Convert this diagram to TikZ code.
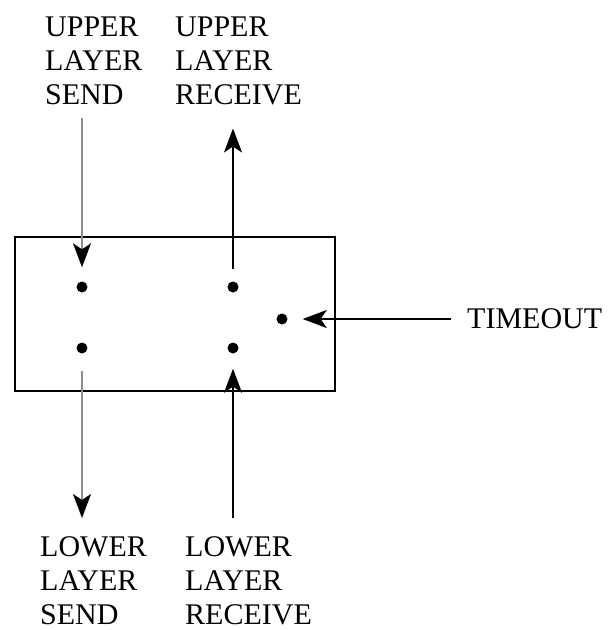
\documentclass[tikz,border=0pt]{standalone}
\usepackage{fontspec}
\setmainfont{Liberation Serif}
\usetikzlibrary{arrows.meta,positioning,calc}

\tikzset{
  dot/.style={circle, fill=black, inner sep=0pt, minimum size=11pt},
  label/.style={align=left, anchor=north west, inner sep=0pt, font=\fontsize{30}{34}\selectfont},
  flow/.style={line width=1.8pt, -{Stealth[length=24pt,width=18pt,inset=6pt]}},
  faint/.style={flow, draw=black!45, -{Stealth[length=24pt,width=18pt,inset=6pt,color=black]}}
}

\begin{document}
\begin{tikzpicture}[x=1pt,y=-1pt]
\useasboundingbox (0,0) rectangle (610,630);

% Box
\draw[line width=2.6pt] (15,237) rectangle (335,391);

% Dots
\node[dot] (d1) at (82,287) {};
\node[dot] (d2) at (233,287) {};
\node[dot] (d3) at (282,319) {};
\node[dot] (d4) at (82,348) {};
\node[dot] (d5) at (233,348) {};

% Labels
\node[label] (usl) at (45,17) {UPPER\\LAYER\\SEND};
\node[label] (usr) at (175,17) {UPPER\\LAYER\\RECEIVE};
\node[label] (lsl) at (40,536) {LOWER\\LAYER\\SEND};
\node[label] (lsr) at (185,536) {LOWER\\LAYER\\RECEIVE};
\node[label, anchor=west] (tmo) at (467,319) {TIMEOUT};

% Arrows
\draw[faint, shorten <=13pt, shorten >=14pt] (usl.south -| d1) -- (d1);
\draw[flow, shorten <=12pt, shorten >=23pt] (d2) -- (usr.south -| d2);
\draw[faint, shorten <=17pt, shorten >=18pt] (d4) -- (lsl.north -| d4);
\draw[flow, shorten <=18pt, shorten >=15pt] (lsr.north -| d5) -- (d5);
\draw[flow, shorten <=16pt, shorten >=15pt] (tmo.west) -- (d3);
\end{tikzpicture}
\end{document}
